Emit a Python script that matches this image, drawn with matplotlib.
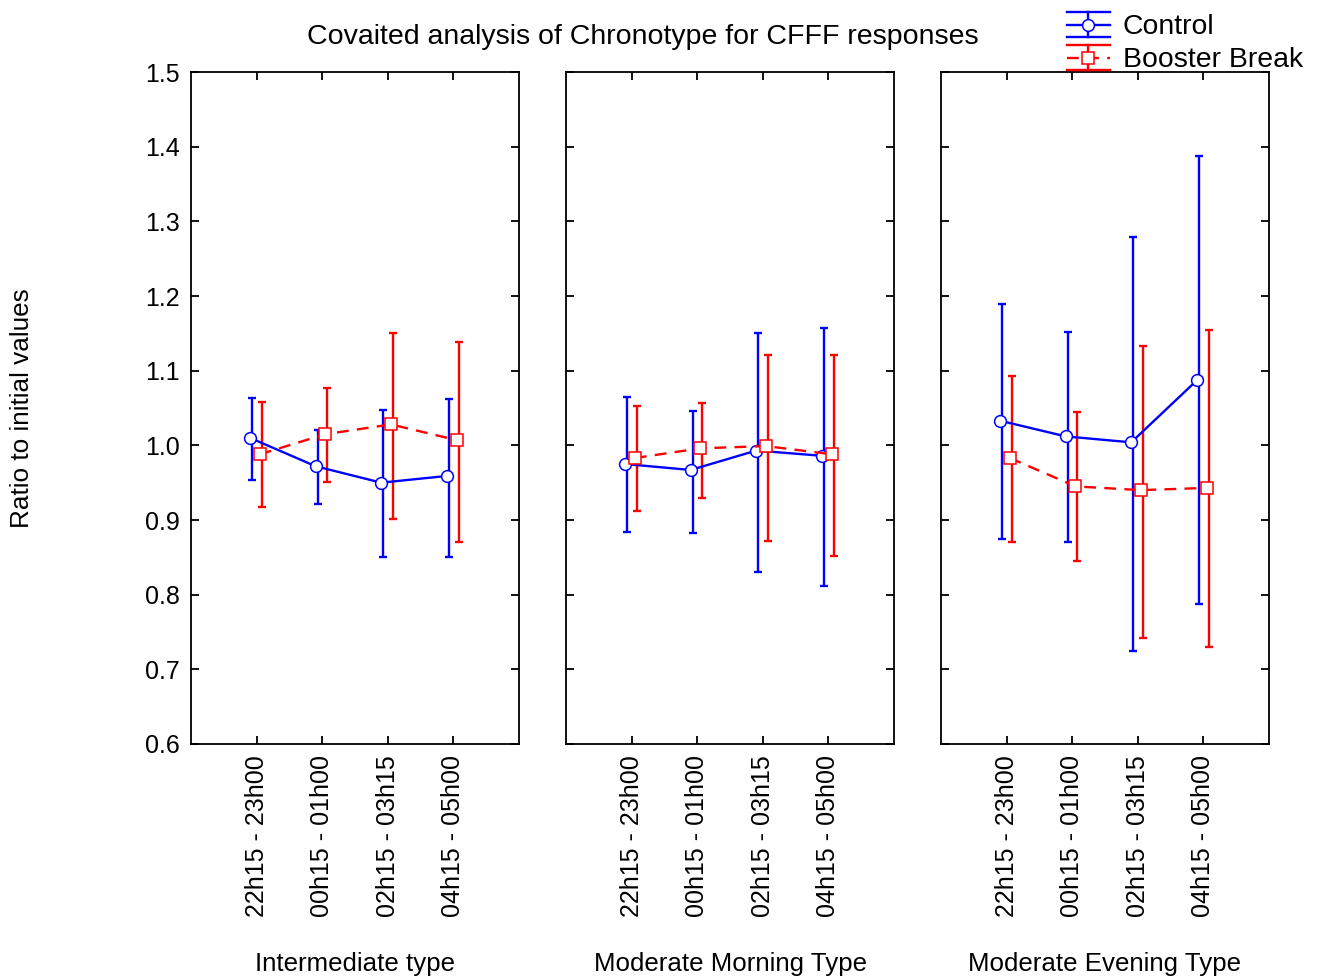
import numpy as np
import matplotlib
matplotlib.use("Agg")
import matplotlib.pyplot as plt
from matplotlib.ticker import FormatStrFormatter

plt.rcParams['font.family'] = ['Liberation Sans', 'DejaVu Sans']

periods = ["22h15 - 23h00", "00h15 - 01h00", "02h15 - 03h15", "04h15 - 05h00"]
groups = ["Intermediate type", "Moderate Morning Type", "Moderate Evening Type"]
series_names = ["Control", "Booster Break"]

# Control: means, lower and upper limits per group
control_mean = [
    [1.010, 0.972, 0.950, 0.959],
    [0.975, 0.967, 0.993, 0.986],
    [1.033, 1.012, 1.004, 1.087],
]
control_low = [
    [0.953, 0.921, 0.851, 0.850],
    [0.884, 0.883, 0.831, 0.811],
    [0.875, 0.870, 0.725, 0.787],
]
control_high = [
    [1.064, 1.021, 1.047, 1.062],
    [1.065, 1.046, 1.151, 1.157],
    [1.189, 1.152, 1.279, 1.387],
]

# Booster Break
booster_mean = [
    [0.988, 1.015, 1.028, 1.007],
    [0.983, 0.996, 0.999, 0.988],
    [0.983, 0.945, 0.940, 0.943],
]
booster_low = [
    [0.917, 0.951, 0.902, 0.871],
    [0.912, 0.930, 0.872, 0.852],
    [0.871, 0.845, 0.742, 0.730],
]
booster_high = [
    [1.058, 1.077, 1.150, 1.138],
    [1.053, 1.057, 1.121, 1.121],
    [1.093, 1.045, 1.133, 1.154],
]

fig = plt.figure(figsize=(13.19, 9.76), dpi=100)
lefts = [191, 566, 941]
x = np.arange(1, 5)
dash = (0, (5, 3.5))

for i in range(3):
    ax = fig.add_axes([lefts[i] / 1319, 1 - 744 / 976, 328 / 1319, 672 / 976])
    cm = np.array(control_mean[i])
    bm = np.array(booster_mean[i])
    cerr = [cm - np.array(control_low[i]), np.array(control_high[i]) - cm]
    berr = [bm - np.array(booster_low[i]), np.array(booster_high[i]) - bm]

    # error bars
    ax.errorbar(x - 0.07, cm, yerr=cerr, fmt='none', ecolor='blue', elinewidth=1.7,
                capsize=3, capthick=1.7, zorder=2)
    ax.errorbar(x + 0.08, bm, yerr=berr, fmt='none', ecolor='red', elinewidth=1.7,
                capsize=3, capthick=1.7, zorder=2)
    # means
    ax.plot(x - 0.1, cm, color='blue', lw=1.7, marker='o', ms=8.5, mfc='white',
            mec='blue', mew=1.1, zorder=3)
    ax.plot(x + 0.05, bm, color='red', lw=1.7, ls=dash, marker='s', ms=8.5,
            mfc='white', mec='red', mew=1.1, zorder=3)

    ax.set_xlim(0, 5)
    ax.set_ylim(0.6, 1.5)
    ax.set_yticks(np.arange(0.6, 1.51, 0.1))
    ax.yaxis.set_major_formatter(FormatStrFormatter('%.1f'))
    ax.set_xticks(x)
    ax.set_xticklabels(periods, rotation=90)
    ax.tick_params(direction='in', top=True, right=True, length=6, width=1.3,
                   labelsize=18, pad=8)
    if i > 0:
        ax.set_yticklabels([])
    for s in ax.spines.values():
        s.set_linewidth(1.3)
    ax.set_xlabel(groups[i], fontsize=18.6, labelpad=25)

fig.text(22 / 1319, 1 - 408 / 976, "Ratio to initial values", rotation=90,
         fontsize=18.8, ha='center', va='center')
fig.text(643 / 1319, 1 - 37 / 976, "Covaited analysis of Chronotype for CFFF responses",
         fontsize=20.5, ha='center', va='center')

# legend drawn in a pixel-coordinate overlay
lg = fig.add_axes([0, 0, 1, 1], facecolor='none')
lg.set_xlim(0, 1319)
lg.set_ylim(976, 0)
lg.axis('off')
for name, color, yc, ls, mk in [(series_names[0], 'blue', 25, '-', 'o'),
                                (series_names[1], 'red', 58, dash, 's')]:
    lg.plot([1067, 1110], [yc - 13, yc - 13], color=color, lw=1.7)
    lg.plot([1067, 1110], [yc + 12, yc + 12], color=color, lw=1.7)
    lg.plot([1088, 1088], [yc - 13, yc + 12], color=color, lw=1.7)
    lg.plot([1067, 1110], [yc, yc], color=color, lw=1.7, ls=ls)
    lg.plot([1088], [yc], marker=mk, ms=8.5, mfc='white', mec=color, mew=1.1,
            color=color)
    lg.text(1123, yc + 2, name, fontsize=20.4, va='center', ha='left')

fig.savefig("out.png", dpi=100)
